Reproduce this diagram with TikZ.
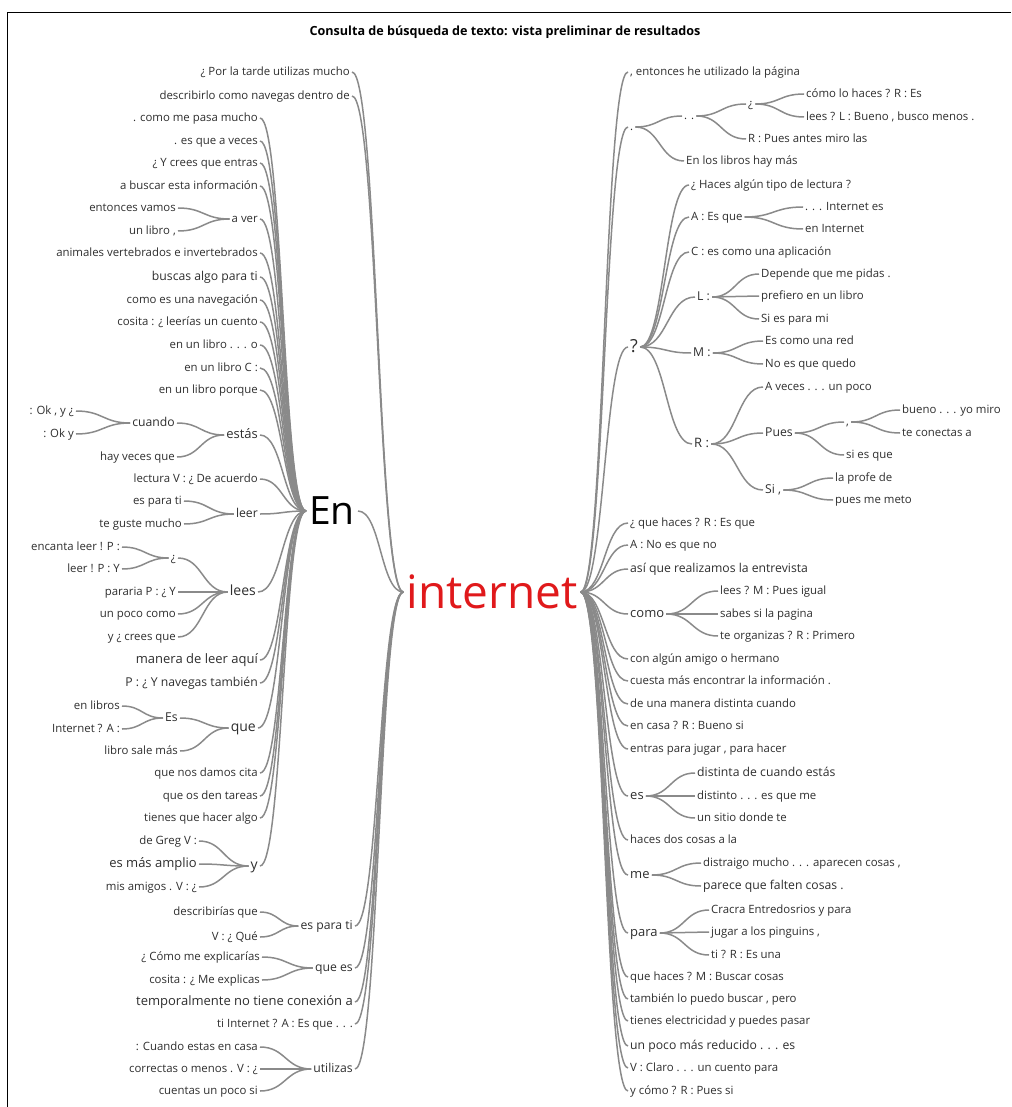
\documentclass[tikz,border=0pt]{standalone}
\usepackage{fontspec}
\setmainfont{Open Sans}
\usetikzlibrary{calc}
\newcommand\fsz[1]{\fontsize{#1}{#1}\selectfont}
\newcommand\wlink[2]{\draw[conn] (#1.east) .. controls ($(#1.east)!.5!(#2.west|-#1.east)$) and ($(#2.west)!.5!(#1.east|-#2.west)$) .. (#2.west);}
\definecolor{linegray}{HTML}{8A8A8A}
\definecolor{txtgray}{HTML}{2E2E2E}
\definecolor{inetred}{HTML}{E0191B}
\begin{document}
\begin{tikzpicture}[x=1pt,y=-1pt,
  conn/.style={draw=linegray, line width=1.5pt},
  base/.style={inner sep=2pt, text=txtgray, font=\fsz{11.4}, text height=8.7pt, text depth=2.6pt},
  lt/.style={base, anchor=east},
  rt/.style={base, anchor=west},
  big/.style={font=\fsz{13}, text height=9.8pt, text depth=2.9pt},
  mid/.style={font=\fsz{12.2}, text height=9.3pt, text depth=2.7pt}]
\useasboundingbox (0,0) rectangle (1011,1107);
\draw[line width=1pt, black] (7,1107) -- (7,13) -- (1011,13);
\node[font=\bfseries\fsz{12.6}] (title) at (505,32) {Consulta de búsqueda de texto: vista preliminar de resultados};

% central nodes
\node[font=\fsz{46}, text=inetred, inner xsep=3pt, inner ysep=0pt] (inet) at (492,592) {internet};
\node[font=\fsz{39}, text=black, inner xsep=3pt, inner ysep=0pt] (en) at (332,511) {En};

% ---------- left side: children of internet ----------
\node[lt] (l1) at (352,72) {¿ Por la tarde utilizas mucho};
\node[lt] (l2) at (352,96) {describirlo como navegas dentro de};
\node[lt,mid] (ept) at (355,926) {es para ti};
\node[lt] (ept1) at (260,912) {describirías que};
\node[lt] (ept2) at (260,937) {V : ¿ Qué};
\node[lt,mid] (qes) at (355,968) {que es};
\node[lt] (qes1) at (262,957) {¿ Cómo me explicarías};
\node[lt] (qes2) at (262,980) {cosita : ¿ Me explicas};
\node[lt,big] (tmp) at (355,1002) {temporalmente no tiene conexión a};
\node[lt] (tin) at (355,1024) {ti Internet ? A : Es que . . .};
\node[lt,mid] (uti) at (355,1069) {utilizas};
\node[lt] (uti1) at (260,1047) {: Cuando estas en casa};
\node[lt] (uti2) at (260,1069) {correctas o menos . V : ¿};
\node[lt] (uti3) at (260,1091) {cuentas un poco si};

% ---------- children of En ----------
\node[lt] (e1) at (260,118) {. como me pasa mucho};
\node[lt] (e2) at (260,141) {. es que a veces};
\node[lt] (e3) at (260,163) {¿ Y crees que entras};
\node[lt] (e4) at (260,186) {a buscar esta información};
\node[lt] (aver) at (260,219) {a ver};
\node[lt] (aver1) at (178,208) {entonces vamos};
\node[lt] (aver2) at (178,231) {un libro ,};
\node[lt] (e5) at (260,253) {animales vertebrados e invertebrados};
\node[lt,mid] (e6) at (260,277) {buscas algo para ti};
\node[lt] (e7) at (260,300) {como es una navegación};
\node[lt] (e8) at (260,322) {cosita : ¿ leerías un cuento};
\node[lt] (e9) at (260,345) {en un libro . . . o};
\node[lt] (e10) at (260,368) {en un libro C :};
\node[lt] (e11) at (260,390) {en un libro porque};
\node[lt,big] (est) at (260,435) {estás};
\node[lt,mid] (cua) at (177,423) {cuando};
\node[lt] (cua1) at (76,411) {: Ok , y ¿};
\node[lt] (cua2) at (76,434) {: Ok y};
\node[lt] (est2) at (177,457) {hay veces que};
\node[lt] (e12) at (260,479) {lectura V : ¿ De acuerdo};
\node[lt,mid] (leer) at (260,514) {leer};
\node[lt] (leer1) at (184,501) {es para ti};
\node[lt] (leer2) at (184,524) {te guste mucho};
\node[lt,font=\fsz{14}] (lees) at (258,592) {lees};
\node[lt] (lq) at (178,558) {¿};
\node[lt] (lq1) at (122,547) {encanta leer ! P :};
\node[lt] (lq2) at (122,569) {leer ! P : Y};
\node[lt] (lees2) at (178,592) {pararia P : ¿ Y};
\node[lt] (lees3) at (178,614) {un poco como};
\node[lt] (lees4) at (178,637) {y ¿ crees que};
\node[lt,big] (e13) at (260,660) {manera de leer aquí};
\node[lt,mid] (e14) at (260,683) {P : ¿ Y navegas también};
\node[lt,font=\fsz{14}] (que) at (258,728) {que};
\node[lt,mid] (es) at (180,718) {Es};
\node[lt] (es1) at (122,706) {en libros};
\node[lt] (es2) at (122,729) {Internet ? A :};
\node[lt] (que2) at (180,751) {libro sale más};
\node[lt] (e15) at (260,773) {que nos damos cita};
\node[lt] (e16) at (260,796) {que os den tareas};
\node[lt] (e17) at (260,818) {tienes que hacer algo};
\node[lt,font=\fsz{14}] (yy) at (260,866) {y};
\node[lt] (yy1) at (199,841) {de Greg V :};
\node[lt,big] (yy2) at (199,864) {es más amplio};
\node[lt] (yy3) at (199,887) {mis amigos . V : ¿};

% ---------- right side ----------
\node[rt] (r1) at (628,72) {, entonces he utilizado la página};
\node[rt] (dot) at (628,127) {.};
\node[rt] (dd) at (682,116) {. .};
\node[rt] (dq) at (746,104) {¿};
\node[rt] (dq1) at (804,94) {cómo lo haces ? R : Es};
\node[rt] (dq2) at (804,117) {lees ? L : Bueno , busco menos .};
\node[rt] (dd2) at (746,139) {R : Pues antes miro las};
\node[rt] (dot2) at (684,161) {En los libros hay más};
\node[rt,font=\fsz{18}, text height=13pt, text depth=2pt] (qm) at (628,347) {?};
\node[rt] (q1) at (689,185) {¿ Haces algún tipo de lectura ?};
\node[rt] (q2) at (689,217) {A : Es que};
\node[rt] (q21) at (803,207) {. . . Internet es};
\node[rt] (q22) at (803,229) {en Internet};
\node[rt] (q3) at (689,252) {C : es como una aplicación};
\node[rt,mid] (qL) at (695,297) {L :};
\node[rt] (qL1) at (759,274) {Depende que me pidas .};
\node[rt] (qL2) at (759,296) {prefiero en un libro};
\node[rt] (qL3) at (759,319) {Si es para mi};
\node[rt,mid] (qM) at (691,353) {M :};
\node[rt] (qM1) at (763,341) {Es como una red};
\node[rt] (qM2) at (763,364) {No es que quedo};
\node[rt,big] (qR) at (692,444) {R :};
\node[rt] (qR1) at (763,387) {A veces . . . un poco};
\node[rt,mid] (pues) at (763,433) {Pues};
\node[rt] (pc) at (844,422) {,};
\node[rt] (pc1) at (900,410) {bueno . . . yo miro};
\node[rt] (pc2) at (900,433) {te conectas a};
\node[rt] (pues2) at (844,455) {si es que};
\node[rt,mid] (si) at (763,490) {Si ,};
\node[rt] (si1) at (833,478) {la profe de};
\node[rt] (si2) at (833,500) {pues me meto};
\node[rt] (r3) at (628,523) {¿ que haces ? R : Es que};
\node[rt] (r4) at (628,545) {A : No es que no};
\node[rt,mid] (r5) at (628,569) {así que realizamos la entrevista};
\node[rt,big] (como) at (628,614) {como};
\node[rt] (como1) at (718,591) {lees ? M : Pues igual};
\node[rt] (como2) at (718,614) {sabes si la pagina};
\node[rt] (como3) at (718,636) {te organizas ? R : Primero};
\node[rt] (r6) at (628,659) {con algún amigo o hermano};
\node[rt] (r7) at (628,681) {cuesta más encontrar la información .};
\node[rt] (r8) at (628,704) {de una manera distinta cuando};
\node[rt] (r9) at (628,726) {en casa ? R : Bueno si};
\node[rt] (r10) at (628,749) {entras para jugar , para hacer};
\node[rt,big] (ess) at (628,796) {es};
\node[rt,mid] (ess1) at (695,773) {distinta de cuando estás};
\node[rt] (ess2) at (695,796) {distinto . . . es que me};
\node[rt] (ess3) at (695,818) {un sitio donde te};
\node[rt] (r11) at (628,840) {haces dos cosas a la};
\node[rt,big] (me) at (628,875) {me};
\node[rt] (me1) at (701,863) {distraigo mucho . . . aparecen cosas ,};
\node[rt,mid] (me2) at (701,886) {parece que falten cosas .};
\node[rt,big] (para) at (628,933) {para};
\node[rt] (para1) at (709,910) {Cracra Entredosrios y para};
\node[rt] (para2) at (709,932) {jugar a los pinguins ,};
\node[rt] (para3) at (709,955) {ti ? R : Es una};
\node[rt] (r12) at (628,977) {que haces ? M : Buscar cosas};
\node[rt] (r13) at (628,999) {también lo puedo buscar , pero};
\node[rt] (r14) at (628,1021) {tienes electricidad y puedes pasar};
\node[rt,mid] (r15) at (628,1046) {un poco más reducido . . . es};
\node[rt] (r16) at (628,1068) {V : Claro . . . un cuento para};
\node[rt] (r17) at (628,1091) {y cómo ? R : Pues si};

% ---------- connectors: left ----------
\foreach \c in {l1,l2,en,ept,qes,tmp,tin,uti} {\wlink{\c}{inet}}
\foreach \c in {ept1,ept2} {\wlink{\c}{ept}}
\foreach \c in {qes1,qes2} {\wlink{\c}{qes}}
\foreach \c in {uti1,uti2,uti3} {\wlink{\c}{uti}}
\foreach \c in {e1,e2,e3,e4,aver,e5,e6,e7,e8,e9,e10,e11,est,e12,leer,lees,e13,e14,que,e15,e16,e17,yy} {\wlink{\c}{en}}
\foreach \c in {aver1,aver2} {\wlink{\c}{aver}}
\foreach \c in {cua,est2} {\wlink{\c}{est}}
\foreach \c in {cua1,cua2} {\wlink{\c}{cua}}
\foreach \c in {leer1,leer2} {\wlink{\c}{leer}}
\foreach \c in {lq,lees2,lees3,lees4} {\wlink{\c}{lees}}
\foreach \c in {lq1,lq2} {\wlink{\c}{lq}}
\foreach \c in {es,que2} {\wlink{\c}{que}}
\foreach \c in {es1,es2} {\wlink{\c}{es}}
\foreach \c in {yy1,yy2,yy3} {\wlink{\c}{yy}}

% ---------- connectors: right ----------
\foreach \c in {r1,dot,qm,r3,r4,r5,como,r6,r7,r8,r9,r10,ess,r11,me,para,r12,r13,r14,r15,r16,r17} {\wlink{inet}{\c}}
\foreach \c in {dd,dot2} {\wlink{dot}{\c}}
\foreach \c in {dq,dd2} {\wlink{dd}{\c}}
\foreach \c in {dq1,dq2} {\wlink{dq}{\c}}
\foreach \c in {q1,q2,q3,qL,qM,qR} {\wlink{qm}{\c}}
\foreach \c in {q21,q22} {\wlink{q2}{\c}}
\foreach \c in {qL1,qL2,qL3} {\wlink{qL}{\c}}
\foreach \c in {qM1,qM2} {\wlink{qM}{\c}}
\foreach \c in {qR1,pues,si} {\wlink{qR}{\c}}
\foreach \c in {pc,pues2} {\wlink{pues}{\c}}
\foreach \c in {pc1,pc2} {\wlink{pc}{\c}}
\foreach \c in {si1,si2} {\wlink{si}{\c}}
\foreach \c in {como1,como2,como3} {\wlink{como}{\c}}
\foreach \c in {ess1,ess2,ess3} {\wlink{ess}{\c}}
\foreach \c in {me1,me2} {\wlink{me}{\c}}
\foreach \c in {para1,para2,para3} {\wlink{para}{\c}}
\end{tikzpicture}
\end{document}
